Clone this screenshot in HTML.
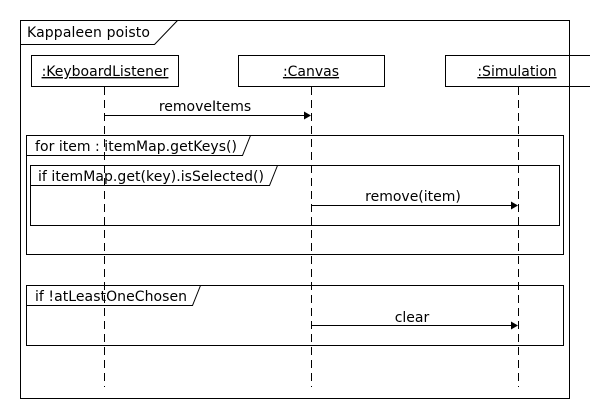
<!DOCTYPE html>
<html><head><style>
html,body{margin:0;padding:0;background:#fff;}
svg{display:block;}
text{font-family:"DejaVu Sans",sans-serif;font-size:14px;fill:#000;}
</style></head><body>
<svg width="590" height="420" xmlns="http://www.w3.org/2000/svg">
<rect width="590" height="420" fill="#fff"/>
<g fill="none" stroke="#000" stroke-width="1">
<rect x="20.5" y="20.5" width="549" height="378"/>
<polyline points="20.5,44.5 154.5,44.5 177.5,20.5"/>
<rect x="31.5" y="55.5" width="147" height="31"/>
<rect x="238.5" y="55.5" width="146" height="31"/>
<rect x="445.5" y="55.5" width="150" height="31"/>
<g stroke-dasharray="8,5">
<line x1="104.5" y1="87" x2="104.5" y2="387"/>
<line x1="311.5" y1="87" x2="311.5" y2="387"/>
<line x1="518.5" y1="87" x2="518.5" y2="387"/>
</g>
<rect x="26.5" y="135.5" width="537" height="119"/>
<polyline points="26.5,155.5 242.5,155.5 250.5,135.5"/>
<rect x="30.5" y="165.5" width="529" height="60"/>
<polyline points="30.5,185.5 269.5,185.5 277.5,165.5"/>
<rect x="26.5" y="285.5" width="537" height="60"/>
<polyline points="26.5,305.5 192.5,305.5 200.5,285.5"/>
<line x1="104.5" y1="115.5" x2="305" y2="115.5"/>
<line x1="311.5" y1="205.5" x2="512" y2="205.5"/>
<line x1="311.5" y1="325.5" x2="512" y2="325.5"/>
</g>
<g fill="#000">
<polygon points="304,111.5 311,115.5 304,119.5"/>
<polygon points="511,201.5 518,205.5 511,209.5"/>
<polygon points="511,321.5 518,325.5 511,329.5"/>
</g>
<text x="27" y="37" textLength="123">Kappaleen poisto</text>
<text x="105" y="76" text-anchor="middle" text-decoration="underline">:KeyboardListener</text>
<text x="311" y="76" text-anchor="middle" text-decoration="underline">:Canvas</text>
<text x="517" y="76" text-anchor="middle" text-decoration="underline">:Simulation</text>
<text x="205" y="111" text-anchor="middle">removeItems</text>
<text x="35" y="151" textLength="202">for item : itemMap.getKeys()</text>
<text x="38" y="181" textLength="226">if itemMap.get(key).isSelected()</text>
<text x="413" y="201" text-anchor="middle">remove(item)</text>
<text x="35" y="301" textLength="152">if !atLeastOneChosen</text>
<text x="412" y="322" text-anchor="middle">clear</text>
</svg>
</body></html>
